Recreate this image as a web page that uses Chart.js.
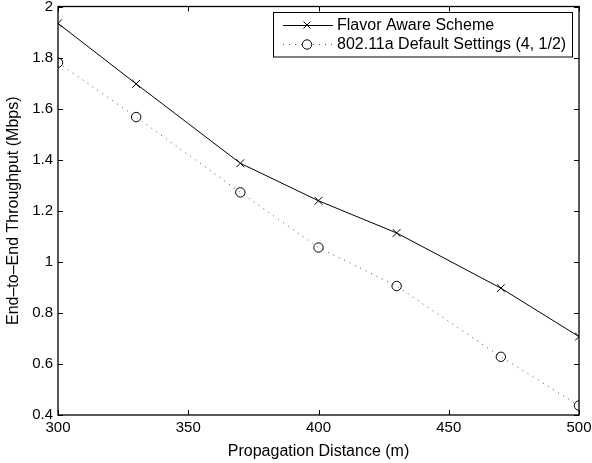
<!DOCTYPE html>
<html><head><meta charset="utf-8">
<script src="https://cdn.jsdelivr.net/npm/chart.js@4/dist/chart.umd.min.js"></script>
<style>html,body{margin:0;padding:0;background:#fff}#wrap{width:592px;height:463px}</style>
</head><body><div id="wrap"><canvas id="c" width="592" height="463"></canvas></div>
<script>
const distances = [300, 330, 370, 400, 430, 470, 500];
const flavorAware = [1.934, 1.697, 1.386, 1.239, 1.113, 0.897, 0.707];
const defaultSettings = [1.78, 1.567, 1.272, 1.056, 0.905, 0.628, 0.437];
const xTicks = [300, 350, 400, 450, 500];
const yTicks = [0.4, 0.6, 0.8, 1, 1.2, 1.4, 1.6, 1.8, 2];
const yTickLabels = ['0.4','0.6','0.8','1','1.2','1.4','1.6','1.8','2'];
const seriesNames = ['Flavor Aware Scheme', '802.11a Default Settings (4, 1/2)'];

const FONT = 'Liberation Sans, Arial, Helvetica, sans-serif';

const frameTicks = {
  id: 'frameTicks',
  afterDatasetsDraw(chart) {
    const {ctx, chartArea: a, scales: {x, y}} = chart;
    ctx.save();
    ctx.strokeStyle = '#000';
    ctx.lineWidth = 1;
    ctx.beginPath();
    xTicks.forEach(v => {
      const px = Math.round(x.getPixelForValue(v)) + 0.5;
      ctx.moveTo(px, a.bottom); ctx.lineTo(px, a.bottom - 5);
      ctx.moveTo(px, a.top); ctx.lineTo(px, a.top + 5);
    });
    yTicks.forEach(v => {
      const py = Math.round(y.getPixelForValue(v)) + 0.5;
      ctx.moveTo(a.left, py); ctx.lineTo(a.left + 5, py);
      ctx.moveTo(a.right, py); ctx.lineTo(a.right - 5, py);
    });
    ctx.stroke();
    ctx.lineWidth = 1.3;
    ctx.strokeRect(a.left, a.top, a.right - a.left, a.bottom - a.top);
    // legend
    const bx = 273.5, by = 12.5, bw = 299, bh = 44.5;
    ctx.fillStyle = '#fff';
    ctx.fillRect(bx, by, bw, bh);
    ctx.lineWidth = 1;
    ctx.strokeRect(bx, by, bw, bh);
    ctx.font = '16px ' + FONT;
    ctx.fillStyle = '#000';
    ctx.textBaseline = 'middle';
    const rows = [25, 44];
    ctx.beginPath(); ctx.setLineDash([]);
    ctx.moveTo(283, rows[0] + 0.5); ctx.lineTo(333, rows[0] + 0.5); ctx.stroke();
    ctx.beginPath();
    ctx.moveTo(303.5, rows[0] - 3.5); ctx.lineTo(310.5, rows[0] + 3.5);
    ctx.moveTo(310.5, rows[0] - 3.5); ctx.lineTo(303.5, rows[0] + 3.5); ctx.stroke();
    ctx.fillText(seriesNames[0], 337, rows[0] + 1);
    ctx.beginPath(); ctx.setLineDash([1, 5]); ctx.strokeStyle = '#555';
    ctx.moveTo(283, rows[1] + 0.5); ctx.lineTo(333, rows[1] + 0.5); ctx.stroke();
    ctx.setLineDash([]); ctx.strokeStyle = '#000';
    ctx.fillStyle = '#fff';
    ctx.beginPath(); ctx.arc(307, rows[1] + 0.5, 4.7, 0, Math.PI * 2); ctx.fill(); ctx.stroke();
    ctx.fillStyle = '#000';
    ctx.fillText(seriesNames[1], 337, rows[1] + 1);
    ctx.restore();
  }
};

new Chart(document.getElementById('c'), {
  type: 'line',
  data: {
    datasets: [
      {
        label: seriesNames[0],
        data: distances.map((d, i) => ({x: d, y: flavorAware[i]})),
        borderColor: '#000', borderWidth: 1, pointStyle: 'crossRot', pointRadius: 5.5,
        pointBorderColor: '#000', pointBorderWidth: 1, fill: false, tension: 0
      },
      {
        label: seriesNames[1],
        data: distances.map((d, i) => ({x: d, y: defaultSettings[i]})),
        borderColor: '#555', borderWidth: 1, borderDash: [1, 5], pointStyle: 'circle', pointRadius: 4.7,
        pointBorderColor: '#000', pointBackgroundColor: 'rgba(255,255,255,0)', pointBorderWidth: 1, fill: false, tension: 0
      }
    ]
  },
  options: {
    responsive: false, animation: false,
    layout: {padding: {top: 5, right: 13, left: 0, bottom: 0}},
    plugins: {legend: {display: false}, tooltip: {enabled: false}},
    scales: {
      x: {
        type: 'linear', min: 300, max: 500,
        afterBuildTicks: s => { s.ticks = xTicks.map(v => ({value: v})); },
        afterFit: s => { s.height = 48; s.paddingLeft = 0; s.paddingRight = 0; },
        grid: {display: false, drawTicks: false},
        border: {display: false},
        ticks: {color: '#000', font: {family: FONT, size: 15}, padding: 4, maxRotation: 0},
        title: {display: true, text: 'Propagation Distance (m)', color: '#000', font: {family: FONT, size: 16}, padding: {top: 0, bottom: 1.5}}
      },
      y: {
        type: 'linear', min: 0.4, max: 2,
        afterBuildTicks: s => { s.ticks = yTicks.map(v => ({value: v})); },
        afterFit: s => { s.width = 58; s.paddingTop = 0; s.paddingBottom = 0; },
        grid: {display: false, drawTicks: false},
        border: {display: false},
        ticks: {color: '#000', font: {family: FONT, size: 15}, padding: 5,
          callback: (v) => { const i = yTicks.findIndex(t => Math.abs(t - v) < 1e-6); return i >= 0 ? yTickLabels[i] : ''; }},
        title: {display: true, text: 'End–to–End Throughput (Mbps)', color: '#000', font: {family: FONT, size: 16}, padding: {top: 3.5, bottom: 0}}
      }
    }
  },
  plugins: [frameTicks]
});
</script></body></html>
